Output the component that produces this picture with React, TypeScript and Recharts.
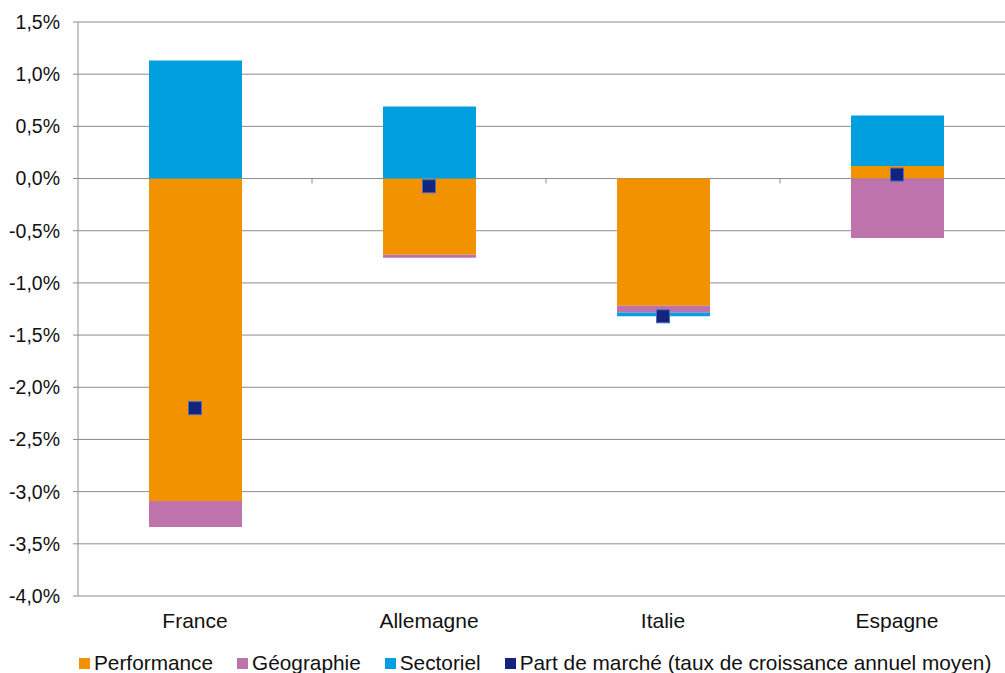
import React from 'react';
import {
    ComposedChart, Bar, Line, XAxis, YAxis, CartesianGrid
} from 'recharts';

// values in percent
const categories = ['France', 'Allemagne', 'Italie', 'Espagne'];
const performance = [-3.09, -0.73, -1.22, 0.12];
const geographie = [-0.25, -0.03, -0.065, -0.57];
const sectoriel = [1.13, 0.69, -0.035, 0.485];
const partMarche = [-2.2, -0.074, -1.32, 0.038];
const yTicks = [-4, -3.5, -3, -2.5, -2, -1.5, -1, -0.5, 0, 0.5, 1, 1.5];

const COLORS = {
    performance: '#F39200',
    geographie: '#BF73AD',
    sectoriel: '#00A0E0',
    part: '#13247C',
};

const FONT = '"Liberation Sans", Arial, sans-serif';

const CHART_W = 1014;
const CHART_H = 673;
const MARGIN = { top: 22, right: 0, bottom: 37, left: 0 };
const Y_AXIS_W = 78;
const X_AXIS_H = 40;
const PLOT_TOP = MARGIN.top;
const PLOT_H = CHART_H - MARGIN.top - MARGIN.bottom - X_AXIS_H;
const PLOT_W = CHART_W - Y_AXIS_W - MARGIN.left - MARGIN.right;
const Y_MIN = -4;
const Y_MAX = 1.5;

const data = categories.map((name, i) => ({
    name,
    performance: performance[i],
    geographie: geographie[i],
    sectoriel: sectoriel[i],
    part: partMarche[i],
}));

const fmtPct = (v: number) => v.toFixed(1).replace('.', ',') + '%';

const CategoryTick = ({ x, y, payload, index }: any) => {
    const band = PLOT_W / categories.length;
    const zeroY = PLOT_TOP + ((Y_MAX - 0) / (Y_MAX - Y_MIN)) * PLOT_H;
    return (
        <g>
            {index < categories.length - 1 && (
                <line x1={x + band / 2} x2={x + band / 2} y1={zeroY} y2={zeroY + 5} stroke="#8c8c8c" />
            )}
            <text x={x} y={y + 32} textAnchor="middle" fontSize={21} fontFamily={FONT} fill="#111">
                {payload.value}
            </text>
        </g>
    );
};

const SquareDot = ({ cx, cy }: any) => {
    if (cx == null || cy == null) return null;
    return <rect x={cx - 6.5} y={cy - 6.5} width={13} height={13} fill={COLORS.part} stroke="#4A6CC0" strokeWidth={1} />;
};

const legendItems = [
    { label: 'Performance', color: COLORS.performance },
    { label: 'Géographie', color: COLORS.geographie },
    { label: 'Sectoriel', color: COLORS.sectoriel },
    { label: 'Part de marché (taux de croissance annuel moyen)', color: COLORS.part },
];

export default function App() {
    return (
        <div style={{ position: 'absolute', left: 0, top: 0, width: 1005, height: 673, overflow: 'hidden', background: '#fff' }}>
            <ComposedChart
                width={CHART_W}
                height={CHART_H}
                data={data}
                margin={MARGIN}
                stackOffset="sign"
            >
                <CartesianGrid vertical={false} stroke="#8c8c8c" />
                <XAxis
                    dataKey="name"
                    height={X_AXIS_H}
                    axisLine={false}
                    tickLine={false}
                    tickSize={0}
                    tickMargin={0}
                    tick={<CategoryTick />}
                    interval={0}
                />
                <YAxis
                    width={Y_AXIS_W}
                    domain={[Y_MIN, Y_MAX]}
                    ticks={yTicks}
                    interval={0}
                    tickFormatter={fmtPct}
                    axisLine={{ stroke: '#8c8c8c' }}
                    tickLine={{ stroke: '#8c8c8c' }}
                    tickSize={5}
                    tickMargin={13}
                    tick={{ fontSize: 19.5, fontFamily: FONT, fill: '#111' }}
                />
                <Bar dataKey="performance" stackId="a" fill={COLORS.performance} barSize={93} isAnimationActive={false} />
                <Bar dataKey="geographie" stackId="a" fill={COLORS.geographie} barSize={93} isAnimationActive={false} />
                <Bar dataKey="sectoriel" stackId="a" fill={COLORS.sectoriel} barSize={93} isAnimationActive={false} />
                <Line
                    dataKey="part"
                    stroke="none"
                    dot={<SquareDot />}
                    activeDot={false}
                    isAnimationActive={false}
                />
            </ComposedChart>
            <div style={{
                position: 'absolute', left: 79, top: 651, display: 'flex', alignItems: 'center',
                fontFamily: FONT, fontSize: 20.8, color: '#111', whiteSpace: 'nowrap', lineHeight: '24px'
            }}>
                {legendItems.map((it, i) => (
                    <div key={i} style={{ display: 'flex', alignItems: 'center', marginRight: 24 }}>
                        <span style={{ display: 'inline-block', width: 11, height: 11, background: it.color, marginRight: 4 }} />
                        <span>{it.label}</span>
                    </div>
                ))}
            </div>
        </div>
    );
}
